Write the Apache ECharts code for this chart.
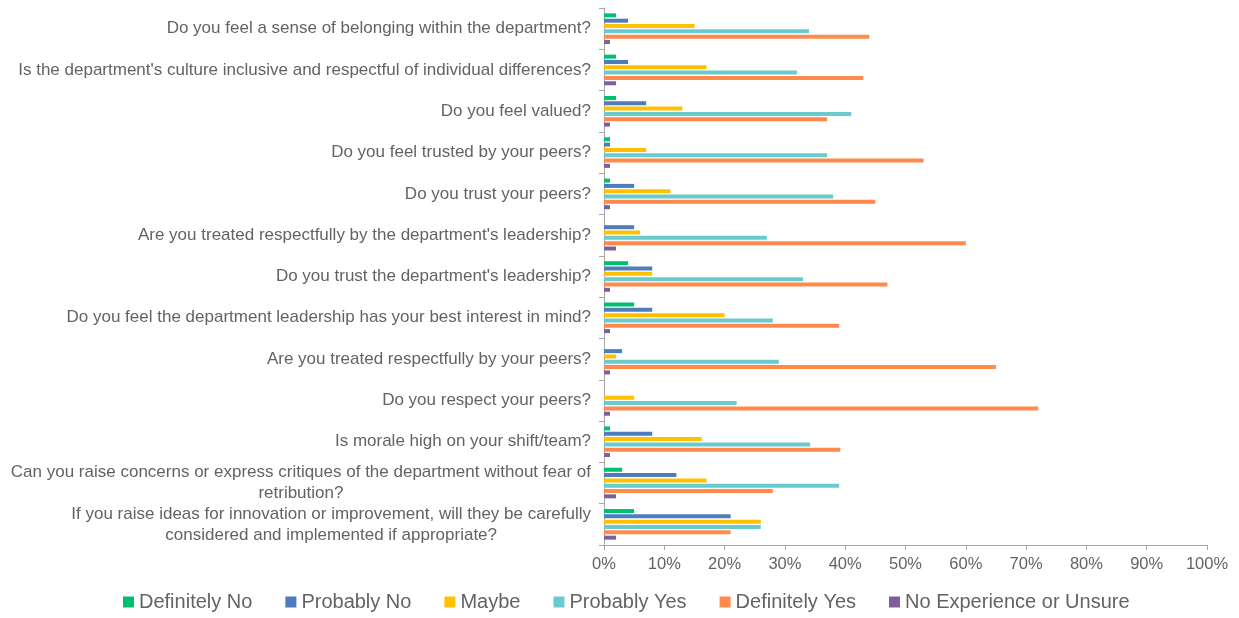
<!DOCTYPE html>
<html>
<head>
<meta charset="utf-8">
<script src="https://cdn.jsdelivr.net/npm/echarts@6/dist/echarts.min.js"></script>
<style>
  html, body { margin: 0; padding: 0; background: #ffffff; }
  #chart { width: 1239px; height: 618px; }
</style>
</head>
<body>
<div id="chart"></div>
<script>
// Survey questions, top to bottom
const questions = [
  "Do you feel a sense of belonging within the department?",
  "Is the department's culture inclusive and respectful of individual differences?",
  "Do you feel valued?",
  "Do you feel trusted by your peers?",
  "Do you trust your peers?",
  "Are you treated respectfully by the department's leadership?",
  "Do you trust the department's leadership?",
  "Do you feel the department leadership has your best interest in mind?",
  "Are you treated respectfully by your peers?",
  "Do you respect your peers?",
  "Is morale high on your shift/team?",
  "Can you raise concerns or express critiques of the department without fear of\nretribution?",
  "If you raise ideas for innovation or improvement, will they be carefully\nconsidered and implemented if appropriate?"
];

// Share of responses (%) per answer, in question order
const definitelyNo   = [2, 2, 2, 1, 1, 0, 4, 5, 0, 0, 1, 3, 5];
const probablyNo     = [4, 4, 7, 1, 5, 5, 8, 8, 3, 0, 8, 12, 21];
const maybe          = [15, 17, 13, 7, 11, 6, 8, 20, 2, 5, 16.2, 17, 26];
const probablyYes    = [34, 32, 41, 37, 38, 27, 33, 28, 29, 22, 34.2, 39, 26];
const definitelyYes  = [44, 43, 37, 53, 45, 60, 47, 39, 65, 72, 39.2, 28, 21];
const noExperience   = [1, 2, 1, 1, 1, 2, 1, 1, 1, 1, 1, 2, 2];

const xTicks = [0, 10, 20, 30, 40, 50, 60, 70, 80, 90, 100];

const seriesDefs = [
  { name: "Definitely No", data: definitelyNo, color: "#00BF6F" },
  { name: "Probably No", data: probablyNo, color: "#4E7DBE" },
  { name: "Maybe", data: maybe, color: "#FFC000" },
  { name: "Probably Yes", data: probablyYes, color: "#6ACBCE" },
  { name: "Definitely Yes", data: definitelyYes, color: "#FF8A4B" },
  { name: "No Experience or Unsure", data: noExperience, color: "#7E5F99" }
];

const textColor = "#636363";
const axisColor = "#A6A6A6";
const fontFamily = "'Liberation Sans', Arial, sans-serif";

const chart = echarts.init(document.getElementById("chart"), null, { renderer: "canvas" });

chart.setOption({
  animation: false,
  textStyle: { fontFamily: fontFamily },
  grid: { left: 604, right: 32, top: 8, bottom: 73, containLabel: false },
  legend: {
    top: 587,
    left: 118,
    itemWidth: 11,
    itemHeight: 11,
    itemGap: 33,
    icon: "rect",
    textStyle: { color: textColor, fontSize: 20, fontFamily: fontFamily },
    data: seriesDefs.map(s => s.name)
  },
  xAxis: {
    type: "value",
    min: xTicks[0],
    max: xTicks[xTicks.length - 1],
    interval: 10,
    splitLine: { show: false },
    axisLine: { show: true, lineStyle: { color: axisColor, width: 1 } },
    axisTick: { show: true, length: 5, lineStyle: { color: axisColor } },
    axisLabel: {
      color: textColor,
      fontSize: 16.5,
      margin: 11,
      formatter: v => v + "%"
    }
  },
  yAxis: {
    type: "category",
    inverse: true,
    data: questions,
    axisLine: { show: true, lineStyle: { color: axisColor, width: 1 } },
    axisTick: { show: true, length: 5, alignWithLabel: false, lineStyle: { color: axisColor } },
    axisLabel: {
      interval: 0,
      hideOverlap: false,
      color: textColor,
      fontSize: 17,
      margin: 13,
      lineHeight: 21,
      formatter: v => v.split("\n").map(l => "{c|" + l + "}").join("\n"),
      rich: {
        c: { align: "center", color: textColor, fontSize: 17, lineHeight: 21, fontFamily: fontFamily }
      }
    }
  },
  series: seriesDefs.map(s => ({
    name: s.name,
    type: "bar",
    data: s.data,
    barWidth: 4,
    barGap: "33%",
    itemStyle: { color: s.color }
  }))
});
</script>
</body>
</html>
